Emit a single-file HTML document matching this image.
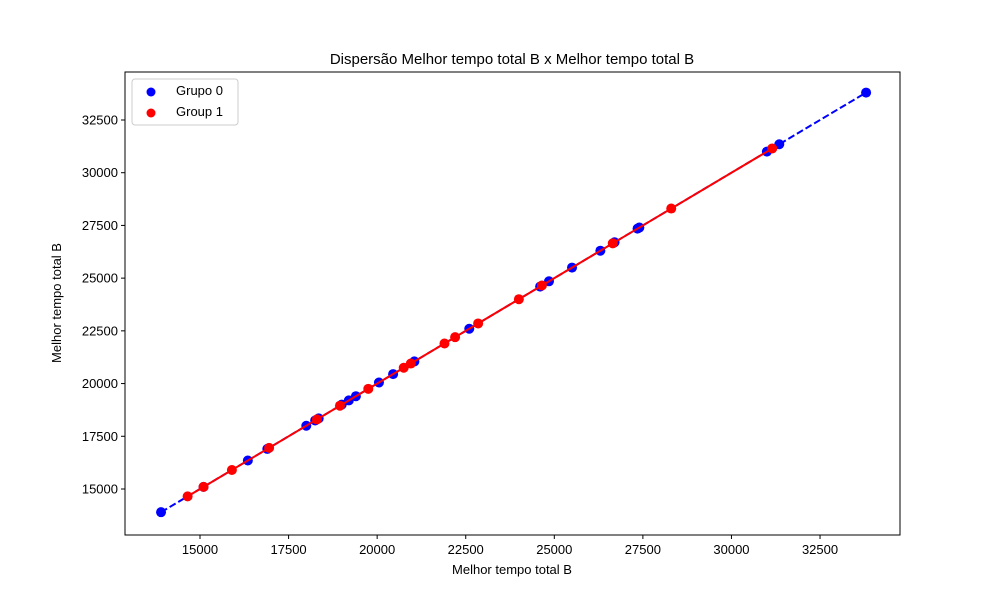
<!DOCTYPE html>
<html><head><meta charset="utf-8"><style>
body{margin:0;background:#fff;font-family:"Liberation Sans","DejaVu Sans",sans-serif}
</style></head><body>
<svg id="chart" width="1000" height="600" xmlns="http://www.w3.org/2000/svg">
<rect width="1000" height="600" fill="#fff"/>
<text x="512" y="64" text-anchor="middle" font-size="15">Dispersão Melhor tempo total B x Melhor tempo total B</text>
<g id="plot"></g>
<rect x="125" y="72" width="775" height="463" fill="none" stroke="#000" stroke-width="1"/>
<text x="512" y="574" text-anchor="middle" font-size="13">Melhor tempo total B</text>
<text transform="translate(61,303) rotate(-90)" text-anchor="middle" font-size="13">Melhor tempo total B</text>
<g>
<rect x="132" y="79" width="106" height="46" fill="#fff" stroke="#ccc" rx="3"/>
<circle cx="151" cy="92" r="4.5" fill="#0000ff"/>
<text x="176" y="95" font-size="13">Grupo 0</text>
<circle cx="151" cy="113" r="4.5" fill="#ff0000"/>
<text x="176" y="116" font-size="13">Group 1</text>
</g>
</svg>
<script>
const xTicks=[15000,17500,20000,22500,25000,27500,30000,32500];
const yTicks=[15000,17500,20000,22500,25000,27500,30000,32500];
const group0X=[13900,15100,16350,16900,18000,18250,18350,19000,19200,19400,20050,20450,21050,22600,24600,24850,25500,26300,26700,27350,27400,31000,31350,33800];
const group0Y=[13900,15100,16350,16900,18000,18250,18350,19000,19200,19400,20050,20450,21050,22600,24600,24850,25500,26300,26700,27350,27400,31000,31350,33800];
const group1X=[14650,15100,15900,16950,18300,18950,19750,20750,20950,21900,22200,22850,24000,24650,26650,28300,31150];
const group1Y=[14650,15100,15900,16950,18300,18950,19750,20750,20950,21900,22200,22850,24000,24650,26650,28300,31150];
const X0=12883,X1=34757,Y0=12818,Y1=34776;
const sx=v=>125+(v-X0)/(X1-X0)*775;
const sy=v=>535-(v-Y0)/(Y1-Y0)*463;
const NS="http://www.w3.org/2000/svg";
const g=document.getElementById('plot');
function mk(t,a){const e=document.createElementNS(NS,t);for(const k in a)e.setAttribute(k,a[k]);g.appendChild(e);return e;}
xTicks.forEach(v=>{
 const l=mk('line',{x1:sx(v),x2:sx(v),y1:535,y2:539,stroke:'#000'});
 
 
 const t=mk('text',{x:sx(v),y:554,'text-anchor':'middle','font-size':13});t.textContent=v;
 
 
});
yTicks.forEach(v=>{
 const l=mk('line',{x1:121,x2:125,y1:sy(v),y2:sy(v),stroke:'#000'});
 
 
 const t=mk('text',{x:118,y:sy(v)+4.5,'text-anchor':'end','font-size':13});t.textContent=v;
 
 
});
function drawGroup(xs,ys,color,dash,name){
 xs.forEach((x,i)=>{
  const c=mk('circle',{cx:sx(x),cy:sy(ys[i]),r:5,fill:color});
  
  
 });
 const mn=Math.min(...xs),mx=Math.max(...xs);
 const ln=mk('line',{x1:sx(mn),y1:sy(mn),x2:sx(mx),y2:sy(mx),stroke:color,'stroke-width':2});
 if(dash)ln.setAttribute('stroke-dasharray',dash);
 
 
}
drawGroup(group0X,group0Y,'#0000ff','7,3','grupo-0');
drawGroup(group1X,group1Y,'#ff0000',null,'group-1');
</script>
</body></html>
